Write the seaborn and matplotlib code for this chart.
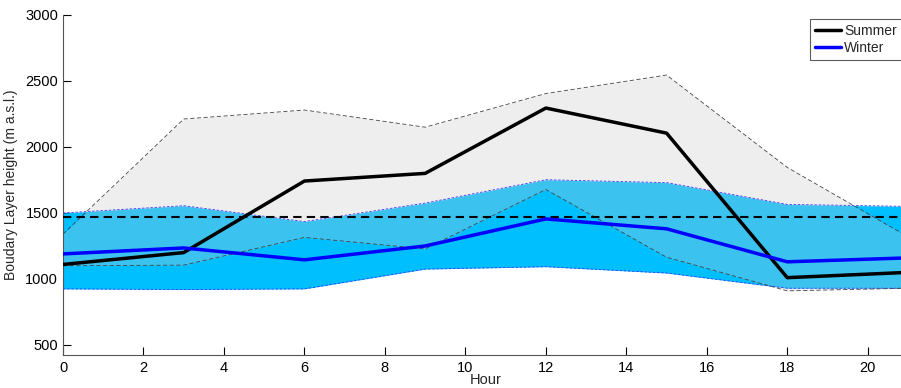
import matplotlib
matplotlib.use('Agg')
import matplotlib.pyplot as plt
import seaborn as sns
import pandas as pd

# hours of the day (3-hourly)
hours = [0, 3, 6, 9, 12, 15, 18, 21]

summer_mean = [1110, 1200, 1742, 1800, 2295, 2105, 1010, 1050]
summer_upper = [1340, 2212, 2280, 2150, 2405, 2545, 1845, 1320]
summer_lower = [1100, 1105, 1315, 1228, 1678, 1165, 910, 930]

winter_mean = [1190, 1235, 1145, 1250, 1455, 1380, 1130, 1160]
winter_upper = [1500, 1555, 1435, 1575, 1752, 1730, 1565, 1550]
winter_lower = [925, 920, 925, 1075, 1093, 1045, 930, 930]

ref_level = 1470

df = pd.DataFrame({'hour': hours,
                   's_mean': summer_mean, 's_up': summer_upper, 's_lo': summer_lower,
                   'w_mean': winter_mean, 'w_up': winter_upper, 'w_lo': winter_lower})

sns.set_style('ticks')
plt.rcParams['font.family'] = ['Liberation Sans', 'DejaVu Sans']

fig = plt.figure(figsize=(9.01, 3.88), dpi=100)
ax = fig.add_axes([63 / 901, 1 - 355 / 388, 845 / 901, 340 / 388])

# winter band first, summer band on top (semi transparent)
ax.fill_between(df.hour, df.w_lo, df.w_up, color='#00bfff', lw=0, zorder=1)
ax.fill_between(df.hour, df.s_lo, df.s_up, color=(0.79, 0.79, 0.79), alpha=0.3, lw=0, zorder=2)

for col in ['w_up', 'w_lo']:
    sns.lineplot(data=df, x='hour', y=col, ax=ax, color='#3a3aff', lw=0.6,
                 zorder=3).lines[-1].set_dashes([3, 2])
for col in ['s_up', 's_lo']:
    sns.lineplot(data=df, x='hour', y=col, ax=ax, color='#444444', lw=0.6,
                 zorder=3).lines[-1].set_dashes([5, 3])

ax.axhline(ref_level, color='black', lw=1.5, dashes=(4, 2.5), zorder=4)

sns.lineplot(data=df, x='hour', y='s_mean', ax=ax, color='black', lw=2.5,
             label='Summer', zorder=5)
sns.lineplot(data=df, x='hour', y='w_mean', ax=ax, color='#0000ff', lw=2.5,
             label='Winter', zorder=5)

ax.set_xlim(0, 21)
ax.set_ylim(424, 3000)
ax.set_xticks(range(0, 21, 2))
ax.set_yticks(range(500, 3001, 500))
ax.tick_params(direction='in', length=6, width=0.8, labelsize=10.5, colors='black')
ax.tick_params(axis='x', pad=4)
for s in ['top', 'right']:
    ax.spines[s].set_visible(False)
for s in ['left', 'bottom']:
    ax.spines[s].set_color('#555555')
    ax.spines[s].set_linewidth(0.8)

ax.set_xlabel('Hour', fontsize=10.5, labelpad=-1)
ax.set_ylabel('Boudary Layer height (m a.s.l.)', fontsize=10, labelpad=5)

leg = ax.legend(loc='upper left', fontsize=10, frameon=True, fancybox=False,
                edgecolor='#333333', handlelength=1.9, handletextpad=0.2,
                borderpad=0.35, labelspacing=0.2, borderaxespad=0)
leg.set_bbox_to_anchor((810 / 901, 1 - 19 / 388), transform=fig.transFigure)
leg.get_frame().set_linewidth(0.8)

fig.savefig('out.png', dpi=100)
